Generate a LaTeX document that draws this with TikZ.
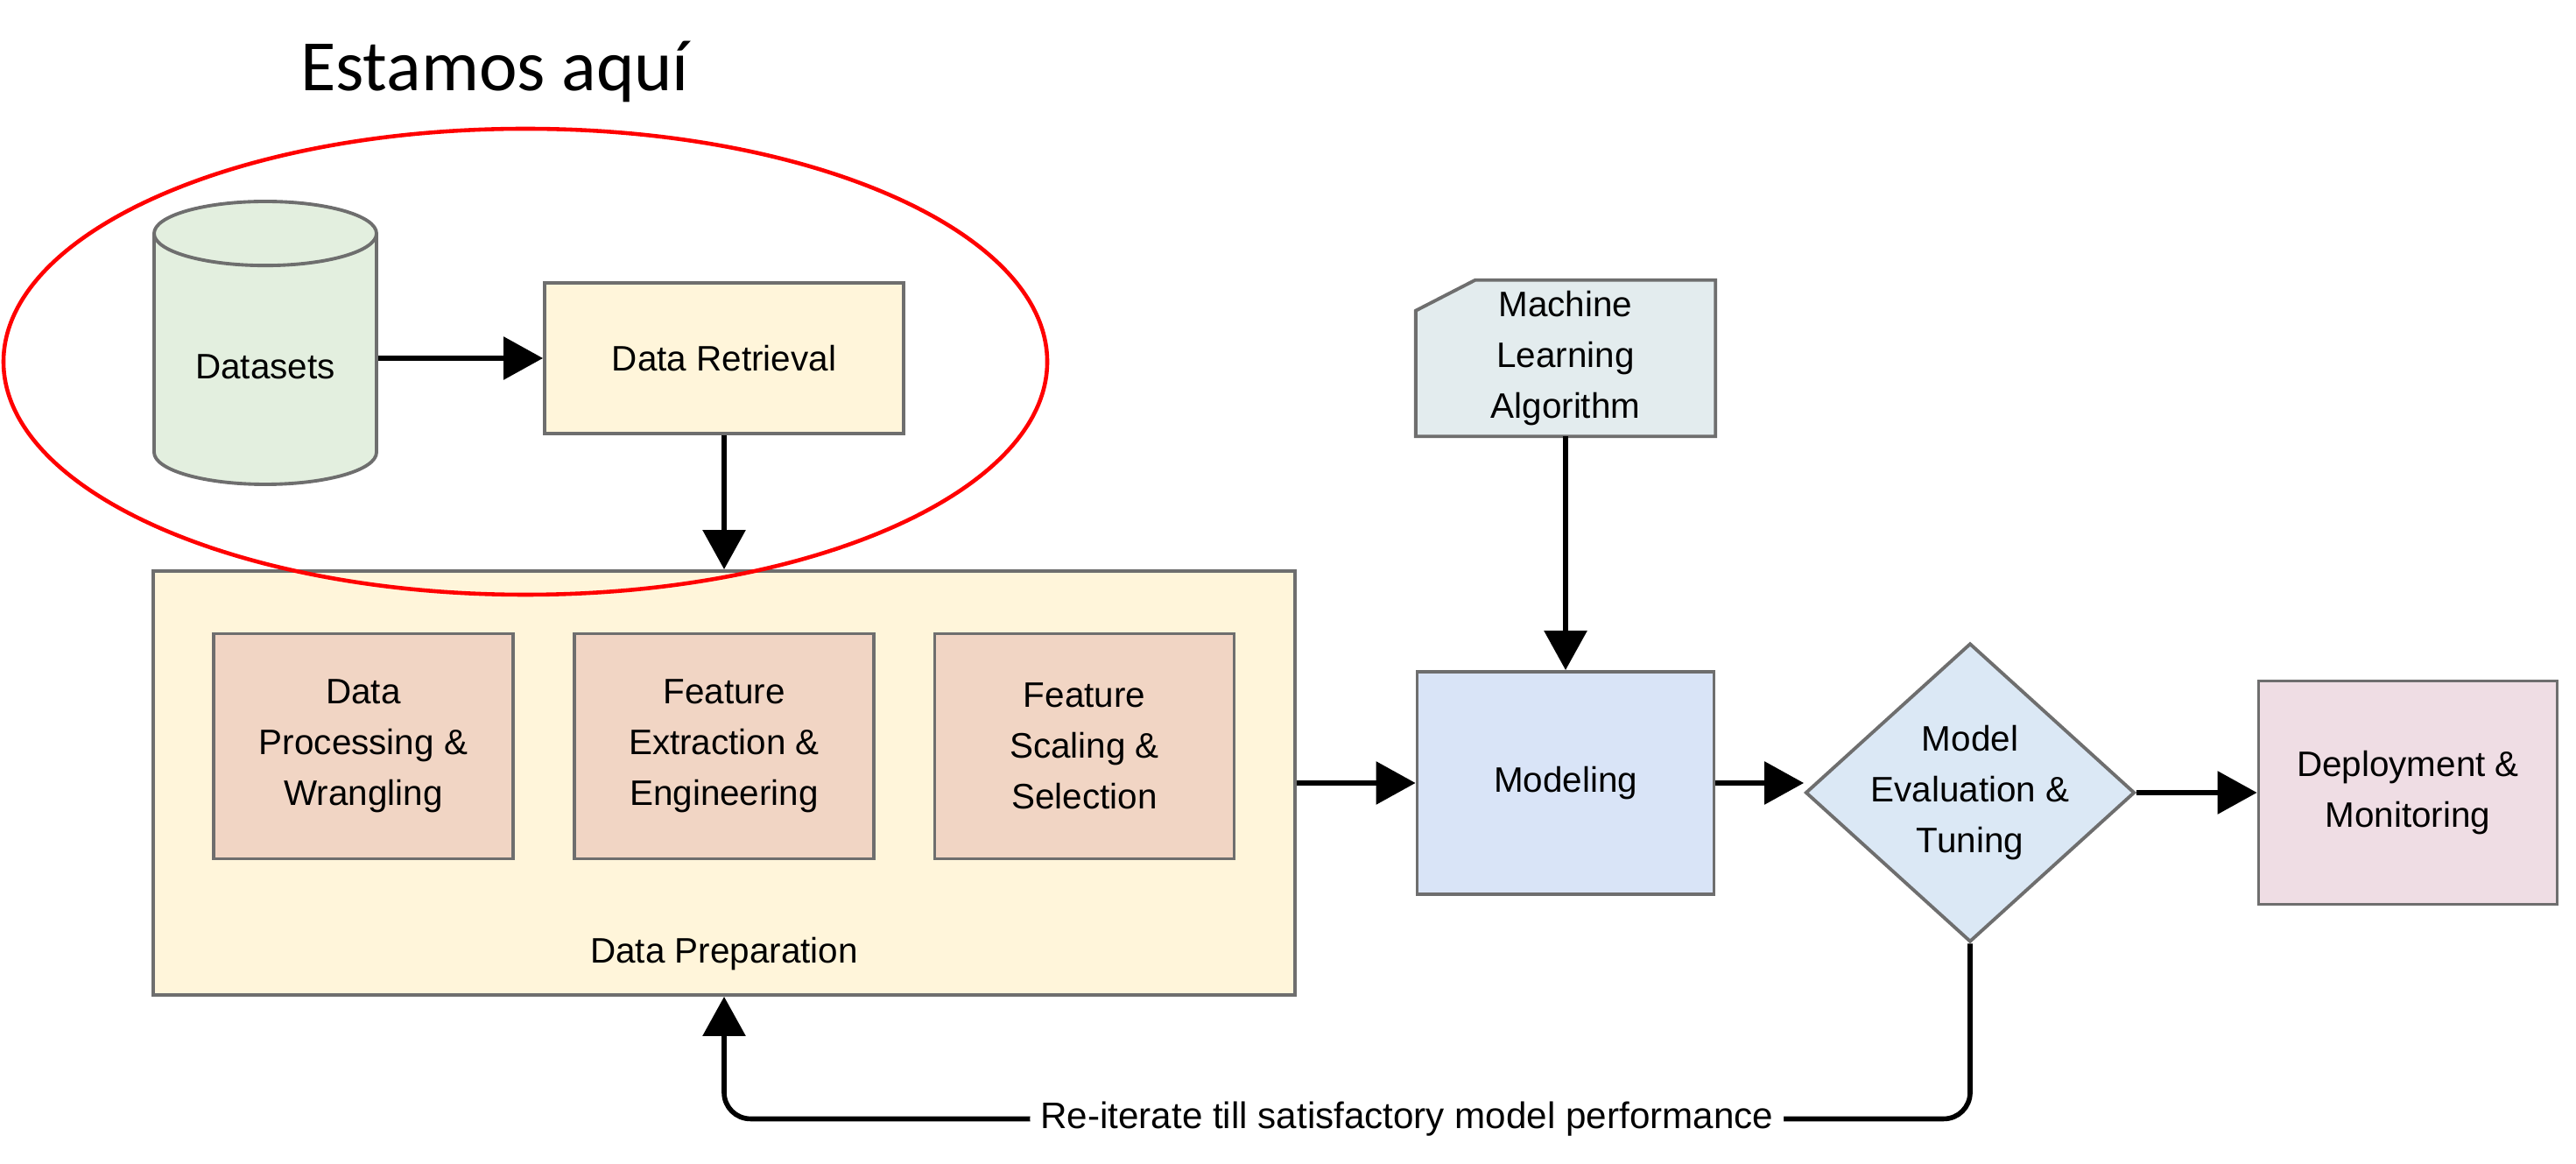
\documentclass[tikz,border=0pt]{standalone}
\usepackage{fontspec}
\setmainfont{Liberation Sans}
\newfontfamily\titlefont{Carlito}
\usepackage{xcolor}
\usepackage{tikz}
\usetikzlibrary{shapes.geometric, arrows.meta, backgrounds}
\definecolor{bordergray}{HTML}{6E6E6E}
\definecolor{dsfill}{HTML}{E3EFDF}
\definecolor{retrfill}{HTML}{FFF5DA}
\definecolor{featfill}{HTML}{F1D5C4}
\definecolor{mlfill}{HTML}{E3ECEE}
\definecolor{modfill}{HTML}{D9E4F7}
\definecolor{evalfill}{HTML}{DBE8F5}
\definecolor{depfill}{HTML}{EFDDE4}
\tikzstyle{arrow} = [-{Triangle[length=12.8pt, width=13.7pt]}, line width=1.6pt]
\tikzstyle{box} = [draw=bordergray, line width=1.1pt, align=center]
\tikzstyle{feat} = [box, fill=featfill, minimum width=3.42cm, minimum height=2.57cm]

\begin{document}
\begin{tikzpicture}[node distance=4.85cm, every node/.style={font=\fontsize{11.5}{16.5}\selectfont}]
		\useasboundingbox (0,0) rectangle (29.42,-13.29);
		\node (title) [anchor=base] at (5.65,-1.04) {\titlefont\fontsize{23.5}{28}\selectfont Estamos aquí};
		
		\node (retrieval) [box, fill=retrfill, minimum width=4.10cm, minimum height=1.72cm] at (8.27,-4.09) {Data Retrieval};
		\node (datasets) [box, cylinder, shape border rotate=90, aspect=0.4, fill=dsfill, minimum width=2.54cm, minimum height=3.23cm, left of=retrieval, xshift=-0.39cm, yshift=0.175cm, anchor=shape center] {Datasets};
		\node (prep) [box, fill=retrfill, minimum width=13.04cm, minimum height=4.84cm, below of=retrieval, label={[anchor=center, yshift=0.49cm]south:Data Preparation}] {};
		\node (extract) [feat, yshift=0.42cm] at (prep) {Feature\\Extraction \&\\Engineering};
		\node (wrangle) [feat, left of=extract, xshift=0.73cm] {Data\\Processing \&\\Wrangling};
		\node (select) [feat, right of=extract, xshift=-0.735cm] {Feature\\Scaling \&\\Selection};
		\node (modeling) [box, fill=modfill, minimum width=3.39cm, minimum height=2.54cm, right of=prep, xshift=4.76cm] {Modeling};
		\node (algo) [align=center, minimum width=3.41cm, minimum height=1.68cm, above of=modeling] {Machine\\Learning\\Algorithm};
		\node (eval) [box, diamond, fill=evalfill, minimum width=3.76cm, minimum height=3.41cm, right of=modeling, xshift=-0.23cm, yshift=-0.11cm, label={[align=center, anchor=center]center:Model\\Evaluation \&\\Tuning}] {};
		\node (deploy) [box, fill=depfill, minimum width=3.41cm, minimum height=2.55cm, right of=eval, xshift=0.15cm] {Deployment \&\\Monitoring};
		
		% cut corner card behind the algorithm text
		\begin{scope}[on background layer]
			\draw [box, fill=mlfill] (algo.south west) -- ([yshift=-0.35cm]algo.north west) -- ([xshift=0.68cm]algo.north west) -- (algo.north east) -- (algo.south east) -- cycle;
		\end{scope}
		
		\draw [arrow] (datasets.east |- retrieval) -- (retrieval.west);
		\draw [arrow] (retrieval.south) -- (retrieval.south |- prep.north);
		\draw [arrow] (prep.east) -- (modeling.west);
		\draw [arrow] (algo.south) -- (modeling.north);
		\draw [arrow] (modeling.east) -- (modeling.east -| eval.west);
		\draw [arrow] (eval.east) -- (eval.east -| deploy.west);
		\draw [arrow, rounded corners=0.3cm] (eval.south) -- ++(0,-2.0) -| node[pos=0.226, fill=white, inner sep=3.4pt, font=\fontsize{12}{14}\selectfont] {Re-iterate till satisfactory model performance} (prep.south);
		
		\draw [red, line width=1.3pt] (6.00,-4.13) ellipse [x radius=5.96, y radius=2.66];
	\end{tikzpicture}
\end{document}
